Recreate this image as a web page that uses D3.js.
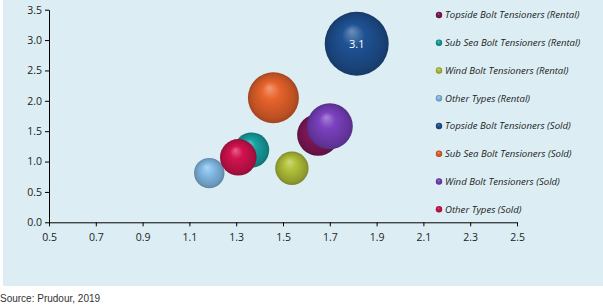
<!DOCTYPE html>
<html><head><meta charset="utf-8">
<script src="https://cdn.jsdelivr.net/npm/d3@7"></script>
<style>body{margin:0;background:#fff}svg{display:block}</style>
</head><body><svg id="c" width="603" height="307"></svg>
<script>
const series = ["Topside Bolt Tensioners (Rental)","Sub Sea Bolt Tensioners (Rental)","Wind Bolt Tensioners (Rental)","Other Types (Rental)","Topside Bolt Tensioners (Sold)","Sub Sea Bolt Tensioners (Sold)","Wind Bolt Tensioners (Sold)","Other Types (Sold)"];
const xValues = [1.65, 1.366, 1.538, 1.185, 1.815, 1.459, 1.70, 1.309];
const yValues = [1.44, 1.19, 0.89, 0.81, 2.94, 2.05, 1.58, 1.07];
const sizes   = [1.33, 0.93, 0.84, 0.70, 3.1, 1.97, 1.60, 1.01];
const colors  = ["#84175a","#16a2a2","#b3c23a","#86bde9","#1f5294","#e8632b","#7b41c0","#d3124f"];
const xTicks = [0.5,0.7,0.9,1.1,1.3,1.5,1.7,1.9,2.1,2.3,2.5];
const yTicks = [0,0.5,1,1.5,2,2.5,3,3.5];
const bubbleLabels = [null,null,null,null,"3.1",null,null,null];

const svg = d3.select("#c");
svg.append("rect").attr("x",3).attr("y",0).attr("width",600).attr("height",286).attr("fill","#dceef4");

const defs = svg.append("defs");
colors.forEach((c,i)=>{
  const g = defs.append("radialGradient").attr("id","g"+i).attr("cx","50%").attr("cy","50%").attr("r","50%").attr("fx","42%").attr("fy","30%");
  const base = d3.color(c);
  g.append("stop").attr("offset","0%").attr("stop-color", d3.interpolateRgb(c,"#fff")(0.35));
  g.append("stop").attr("offset","35%").attr("stop-color", c);
  g.append("stop").attr("offset","85%").attr("stop-color", base.darker(0.6));
  g.append("stop").attr("offset","100%").attr("stop-color", base.darker(1.0));
});

const x = d3.scaleLinear().domain([0.5,2.5]).range([49,517]);
const y = d3.scaleLinear().domain([0,3.5]).range([222.3,9.7]);
const r = d3.scaleSqrt().domain([0,3.1]).range([0,32]);

const font = "'Open Sans', sans-serif";
const xa = svg.append("g").attr("transform","translate(0,222.3)")
  .call(d3.axisBottom(x).tickValues(xTicks).tickFormat(d3.format(".1f")).tickSize(4).tickSizeOuter(0));
const ya = svg.append("g").attr("transform","translate(49,0)")
  .call(d3.axisLeft(y).tickValues(yTicks).tickFormat(d3.format(".1f")).tickSize(4).tickSizeOuter(0));
[xa,ya].forEach(a=>{
  a.selectAll("path,line").attr("stroke","#000");
  a.selectAll("text").attr("fill","#222").style("font-family",font).style("font-size","10.5px");
});
xa.selectAll("text").attr("dy","1.1em");

const data = series.map((s,i)=>({s,x:xValues[i],y:yValues[i],size:sizes[i],i,label:bubbleLabels[i]}));
svg.append("g").selectAll("circle").data(data).join("circle")
  .attr("cx",d=>x(d.x)).attr("cy",d=>y(d.y)).attr("r",d=>r(d.size))
  .attr("fill",d=>`url(#g${d.i})`);
svg.append("g").selectAll("text").data(data.filter(d=>d.label)).join("text")
  .attr("x",d=>x(d.x)).attr("y",d=>y(d.y)).attr("dy","0.35em").attr("text-anchor","middle")
  .attr("fill","#fff").style("font-family",font).style("font-size","11px").text(d=>d.label);

const lg = svg.append("g").selectAll("g").data(series).join("g")
  .attr("transform",(d,i)=>`translate(439,${15+i*27.75})`);
lg.append("circle").attr("r",3.2).attr("fill",(d,i)=>`url(#g${i})`);
lg.append("text").attr("x",6).attr("dy","0.35em").attr("fill","#222")
  .style("font-family",font).style("font-size","9.6px").style("font-style","italic").text(d=>d);

svg.append("text").attr("x",0).attr("y",302).attr("fill","#333")
  .style("font-family","'Liberation Sans', Arial, sans-serif").style("font-size","10px").text("Source: Prudour, 2019");
</script></body></html>
